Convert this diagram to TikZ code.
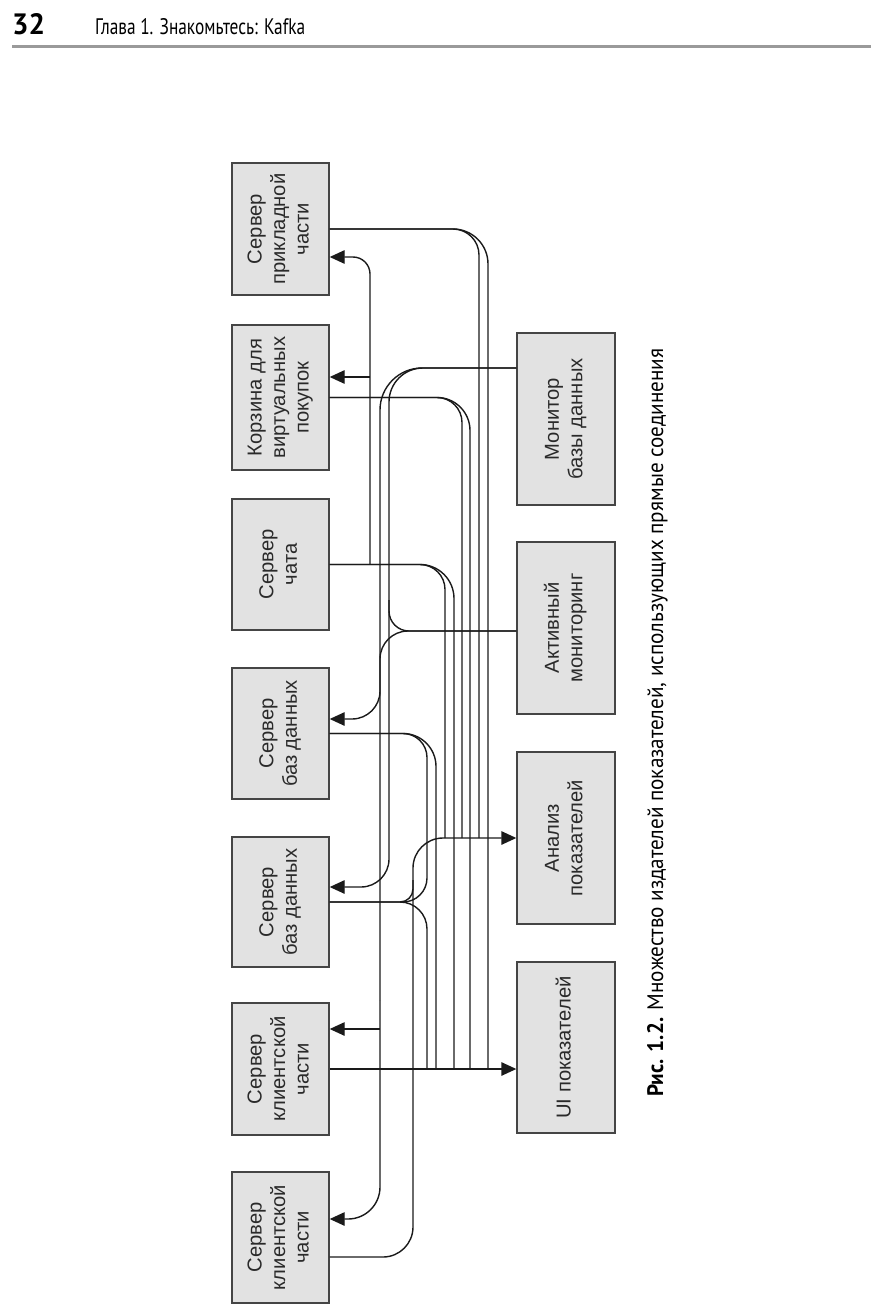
\documentclass[tikz,border=0pt]{standalone}
\usepackage{fontspec}
\setmainfont{Liberation Sans}
\newfontfamily\hdrfont{PT Sans}
\usetikzlibrary{arrows.meta}
\definecolor{boxfill}{HTML}{E2E2E2}
\definecolor{boxline}{HTML}{454545}
\definecolor{wirecol}{HTML}{1A1A1A}
\definecolor{txtcol}{HTML}{2A2A2A}
\definecolor{rulecol}{HTML}{9A9A9A}
\newcommand{\vtext}[1]{\rotatebox{90}{\begin{tabular}{@{}c@{}}#1\end{tabular}}}
\begin{document}
\begin{tikzpicture}[x=1pt,y=-1pt,
  box/.style={draw=boxline, fill=boxfill, line width=1.4pt, inner sep=0pt, text=txtcol,
              font=\fontsize{20.2}{23.5}\selectfont},
  lbox/.style={box, minimum width=97pt},
  rbox/.style={box, minimum width=98pt, minimum height=172pt},
  wire/.style={draw=wirecol, line width=1.4pt},
  arr/.style={wire, -{Triangle[length=15pt,width=13.5pt]}},
]
\useasboundingbox (0,0) rectangle (884,1316);

% header
\node[anchor=base west, inner sep=0pt] (pnum) at (12,35) {\resizebox{33pt}{21pt}{\hdrfont\bfseries 32}};
\node[anchor=base west, inner sep=0pt] (htitle) at (95,35) {\resizebox{210pt}{16pt}{\hdrfont Глава 1. Знакомьтесь: Kafka}};
\draw[line width=3pt, rulecol] (12,47) -- (871,47);

% left boxes
\node[lbox, minimum height=132pt] (L1) at (280.5,229)   {\vtext{Сервер\\прикладной\\части}};
\node[lbox, minimum height=145pt] (L2) at (280.5,397.5) {\vtext{Корзина для\\виртуальных\\покупок}};
\node[lbox, minimum height=131pt] (L3) at (280.5,564.5) {\vtext{Сервер\\чата}};
\node[lbox, minimum height=131pt] (L4) at (280.5,733.5) {\vtext{Сервер\\баз данных}};
\node[lbox, minimum height=130pt] (L5) at (280.5,902)   {\vtext{Сервер\\баз данных}};
\node[lbox, minimum height=132pt] (L6) at (280.5,1069)  {\vtext{Сервер\\клиентской\\части}};
\node[lbox, minimum height=131pt] (L7) at (280.5,1237.5){\vtext{Сервер\\клиентской\\части}};

% right boxes
\node[rbox] (R1) at (566,419)    {\vtext{Монитор\\базы данных}};
\node[rbox] (R2) at (566,628)    {\vtext{Активный\\мониторинг}};
\node[rbox] (R3) at (566,838)    {\vtext{Анализ\\показателей}};
\node[rbox, minimum height=171pt] (R4) at (566,1047.5) {\vtext{UI показателей}};

% caption
\node[rotate=90, anchor=base west, inner sep=0pt] (cap) at (663,1097)
  {\resizebox{748pt}{16pt}{\hdrfont\textbf{Рис. 1.2.} Множество издателей показателей, использующих прямые соединения}};

% helper coordinates
\coordinate (kApp) at (370,257);
\coordinate (jCart) at (370,377);
\coordinate (jChat) at (370,564.5);
\coordinate (mY) at (0,368);
\coordinate (aY) at (0,631);
\coordinate (fY) at (0,1257);
\coordinate (d1Y) at (0,719);
\coordinate (d2Y) at (0,887);
\coordinate (f1Y) at (0,1029);
\coordinate (f2Y) at (0,1219);
\coordinate (mA) at (380,1000);
\coordinate (mB) at (389,600);
\coordinate (u1) at (488,1069);
\coordinate (a1) at (479,838);
\coordinate (u2) at (470,1069);
\coordinate (a2) at (462,838);
\coordinate (u3) at (454,1069);
\coordinate (a3) at (445,838);
\coordinate (u4) at (436,1069);
\coordinate (u5) at (427,1069);
\coordinate (p427) at (427,902);
\coordinate (p400) at (400,902);
\coordinate (q413) at (413,880);
\coordinate (r413) at (413,838);

% outputs of the left servers
\draw[wire, rounded corners=35pt] (L1.east) -| (u1);
\draw[wire, rounded corners=26pt] (L1.east) -| (a1);
\draw[wire, rounded corners=33pt] (L2.east) -| (u2);
\draw[wire, rounded corners=25pt] (L2.east) -| (a2);
\draw[wire, rounded corners=34pt] (L3.east) -| (u3);
\draw[wire, rounded corners=25pt] (L3.east) -| (a3);
\draw[wire, rounded corners=33pt] (L4.east) -| (u4);
\draw[wire, rounded corners=24pt] (L4.east) -| (p427) -- (p400);
\draw[wire, rounded corners=13pt] (L5.east) -| (q413);
\draw[wire, rounded corners=27pt] (L5.east) -| (u5);
\draw[arr, rounded corners=30pt] (L7.east |- fY) -| (r413) -- (R3.west);
\draw[arr] (L6.east) -- (R4.west |- L6.east);

% chat junction to the upper servers
\draw[arr, rounded corners=17pt] (jChat) |- (L1.east |- kApp);
\draw[arr] (jCart) -- (L2.east |- jCart);

% database monitor
\draw[wire, rounded corners=34pt] (R1.west |- mY) -| (mB);
\draw[arr, rounded corners=28pt] (mB) |- (L5.east |- d2Y);
\draw[wire, rounded corners=42pt] (R1.west |- mY) -| (mA);
\draw[arr, rounded corners=32pt] (mA) |- (L7.east |- f2Y);
\draw[arr] (mA |- f1Y) -- (L6.east |- f1Y);

% active monitoring
\draw[wire, rounded corners=20pt] (R2.west |- aY) -| (mB);
\draw[arr, rounded corners=28pt] (R2.west |- aY) -| (mA |- d1Y) -- (L4.east |- d1Y);
\end{tikzpicture}
\end{document}
